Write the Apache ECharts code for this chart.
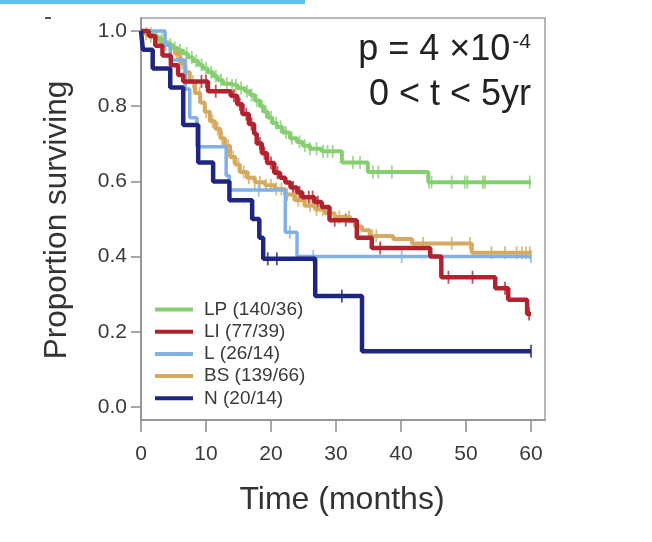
<!DOCTYPE html>
<html>
<head>
<meta charset="utf-8">
<script src="https://cdn.jsdelivr.net/npm/echarts@6/dist/echarts.min.js"></script>
<style>
  html, body { margin: 0; padding: 0; background: #fff; }
  #chart { width: 652px; height: 542px; }
</style>
</head>
<body>
<div id="chart"></div>
<script>
// Kaplan-Meier steps: [months, proportion surviving]
const lpSteps = [[0,1.0],[1.1,0.993],[1.8,0.986],[2.6,0.978],[3.4,0.970],[4.2,0.963],[4.9,0.955],[5.7,0.948],[6.5,0.940],[7.2,0.930],[8.0,0.920],[8.8,0.910],[9.5,0.900],[10.3,0.890],[11.1,0.880],[11.8,0.870],[12.6,0.860],[13.7,0.855],[14.9,0.848],[16.0,0.840],[16.8,0.830],[17.5,0.815],[18.3,0.800],[18.9,0.785],[19.5,0.770],[20.2,0.755],[20.9,0.745],[21.8,0.730],[22.9,0.715],[24.0,0.705],[24.9,0.695],[26.0,0.687],[27.8,0.680],[30.9,0.650],[34.9,0.625],[44.2,0.598],[60,0.598]];
const liSteps = [[0,1.0],[1.2,0.987],[2.2,0.961],[3.3,0.935],[4.6,0.909],[5.7,0.883],[6.5,0.866],[10.3,0.840],[13.8,0.828],[14.8,0.805],[15.6,0.779],[16.6,0.753],[17.4,0.727],[17.8,0.701],[18.6,0.675],[19.4,0.649],[20.5,0.623],[21.4,0.610],[22.2,0.597],[23.0,0.584],[24.0,0.571],[24.8,0.558],[26.7,0.545],[27.8,0.532],[29.0,0.497],[33.2,0.450],[35.5,0.423],[44.5,0.400],[46.2,0.345],[54.5,0.316],[56.5,0.285],[59.4,0.247],[60,0.247]];
const lSteps = [[0,1.0],[3.7,0.962],[4.5,0.923],[6.8,0.846],[7.5,0.769],[8.6,0.692],[13.1,0.615],[13.6,0.577],[22.2,0.465],[24.0,0.400],[60,0.400]];
const bsSteps = [[0,1.0],[0.6,0.993],[1.4,0.986],[2.2,0.978],[2.9,0.971],[3.7,0.964],[4.5,0.955],[5.2,0.940],[6.0,0.915],[6.8,0.890],[7.5,0.865],[8.3,0.835],[9.1,0.810],[9.8,0.785],[10.6,0.760],[11.4,0.740],[12.2,0.715],[12.9,0.695],[13.7,0.665],[14.5,0.645],[15.2,0.625],[16.3,0.610],[17.5,0.598],[19.1,0.590],[20.6,0.580],[22.2,0.565],[23.7,0.550],[25.2,0.535],[26.8,0.525],[28.3,0.515],[29.8,0.505],[32.2,0.495],[32.9,0.480],[34.0,0.470],[35.2,0.455],[38.8,0.447],[41.7,0.435],[50.9,0.410],[60,0.410]];
const nSteps = [[0,1.0],[0.3,0.95],[1.8,0.90],[4.5,0.85],[6.5,0.75],[8.8,0.65],[11.1,0.60],[13.6,0.55],[17.1,0.50],[18.2,0.45],[18.8,0.394],[26.8,0.295],[34.0,0.148],[60,0.148]];

// censoring times (months)
const lpCensor = [1.5,2.4,3.2,4.5,5.2,6.0,7.0,7.8,8.5,9.3,10.0,10.8,11.5,12.3,13.2,14.0,14.6,15.4,16.3,17.0,17.8,18.6,19.2,20.0,20.8,21.5,22.3,23.2,24.4,25.2,26.0,27.0,28.0,28.7,29.5,32.6,33.7,35.7,36.5,38.6,44.3,44.7,47.8,49.8,50.2,52.6,52.9,59.8];
const liCensor = [9.3,10.0,11.5,14.3,15.2,16.2,17.0,18.3,19.0,20.0,21.0,23.4,24.4,25.8,26.4,27.2,29.8,31.5,36.8,47.3,51.0,56.0,59.7];
const lCensor = [18.1,22.9,26.5,40.1,60.0];
const bsCensor = [0.8,1.5,2.3,3.0,3.8,4.6,5.5,6.3,7.0,8.0,9.0,10.0,11.0,11.8,12.5,13.4,14.2,15.0,15.8,16.6,17.5,18.3,19.2,20.0,20.8,21.6,22.5,23.4,24.2,25.0,26.0,27.0,28.0,29.0,30.5,32.0,35.6,36.2,43.4,47.8,50.6,53.9,56.0,57.8,58.6,59.2,59.8];
const nCensor = [19.5,20.9,30.9,60.0];

const groupNames = ['LP (140/36)', 'LI (77/39)', 'L (26/14)', 'BS (139/66)', 'N (20/14)'];
const xTicks = [0, 10, 20, 30, 40, 50, 60];
const yTicks = [0, 0.2, 0.4, 0.6, 0.8, 1.0];

function survAt(steps, t) {
  let s = steps[0][1];
  for (const p of steps) { if (p[0] <= t) s = p[1]; }
  return s;
}

const chart = echarts.init(document.getElementById('chart'));

function curve(name, steps, color, width) {
  return {
    name: name, type: 'line', step: 'end', data: steps,
    showSymbol: false, symbol: 'none',
    lineStyle: { color: color, width: width },
    itemStyle: { color: color },
    animation: false
  };
}
function ticks(name, steps, times, color) {
  return {
    name: name + ' censored', type: 'scatter',
    data: times.map(t => [t, survAt(steps, t)]),
    symbol: 'rect', symbolSize: [1.8, 13],
    itemStyle: { color: color },
    silent: true, animation: false
  };
}

const cGreen = '#86cf70', cRed = '#b0222e', cBlue = '#80b1e6', cGold = '#d6aa5e', cNavy = '#1f2681';
const axisGrey = '#8c8c8c';
const fam = '"Liberation Sans", Arial, sans-serif';

const option = {
  backgroundColor: '#fff',
  animation: false,
  grid: {
    left: 141, top: 18, width: 404, height: 402,
    show: true, borderColor: '#a0a0a0', borderWidth: 1.5
  },
  xAxis: {
    type: 'value', min: 0, max: 62.15,
    axisLine: { show: true, onZero: false, lineStyle: { color: axisGrey, width: 1.5 } },
    axisTick: { show: true, inside: false, length: 12, customValues: xTicks, lineStyle: { color: axisGrey, width: 1.5 } },
    axisLabel: { customValues: xTicks, fontSize: 21, color: '#3a3a3a', margin: 24, fontFamily: fam },
    splitLine: { show: false }
  },
  yAxis: {
    type: 'value', min: -0.0346, max: 1.0346,
    axisLine: { show: true, onZero: false, lineStyle: { color: axisGrey, width: 1.5 } },
    axisTick: { show: true, inside: false, length: 10, customValues: yTicks, lineStyle: { color: axisGrey, width: 1.5 } },
    axisLabel: { customValues: yTicks, fontSize: 21, color: '#3a3a3a', margin: 14, fontFamily: fam,
      formatter: v => v.toFixed(1) },
    splitLine: { show: false }
  },
  legend: {
    data: groupNames,
    orient: 'vertical', left: 155, top: 300, padding: 0,
    icon: 'rect', itemWidth: 38, itemHeight: 4, itemGap: 3.2,
    textStyle: { fontSize: 19, color: '#3a3a3a', fontFamily: fam, padding: [0, 0, 0, 6], lineHeight: 18 }
  },
  graphic: [
    { type: 'rect', shape: { x: 0, y: 0, width: 305, height: 4 }, style: { fill: '#5ec4ec' } },
    { type: 'rect', shape: { x: 45, y: 17, width: 6, height: 2 }, style: { fill: '#555' } },
    { type: 'text', x: 57, y: 220, rotation: Math.PI / 2,
      style: { text: 'Proportion surviving', fill: '#333', font: '31.5px ' + fam,
        align: 'center', verticalAlign: 'middle' } },
    { type: 'text', x: 342, y: 500,
      style: { text: 'Time (months)', fill: '#333', font: '32px ' + fam,
        align: 'center', verticalAlign: 'middle' } },
    { type: 'text', x: 531, y: 50,
      style: { text: '{a|p = 4 ×10}{s|-4}', align: 'right', verticalAlign: 'middle',
        rich: {
          a: { fontSize: 36, fontFamily: fam, fill: '#222', color: '#222' },
          s: { fontSize: 21, fontFamily: fam, fill: '#222', color: '#222', verticalAlign: 'top', padding: [0, 0, 16, 2] }
        } } },
    { type: 'text', x: 531, y: 95,
      style: { text: '0 < t < 5yr', font: '36px ' + fam, fill: '#222', align: 'right', verticalAlign: 'middle' } }
  ],
  series: [
    curve(groupNames[3], bsSteps, cGold, 4),
    curve(groupNames[0], lpSteps, cGreen, 4),
    curve(groupNames[2], lSteps, cBlue, 3.5),
    curve(groupNames[1], liSteps, cRed, 4.5),
    curve(groupNames[4], nSteps, cNavy, 4.5),
    ticks('BS', bsSteps, bsCensor, cGold),
    ticks('LP', lpSteps, lpCensor, cGreen),
    ticks('L', lSteps, lCensor, cBlue),
    ticks('LI', liSteps, liCensor, cRed),
    ticks('N', nSteps, nCensor, cNavy)
  ]
};

chart.setOption(option);
</script>
</body>
</html>
